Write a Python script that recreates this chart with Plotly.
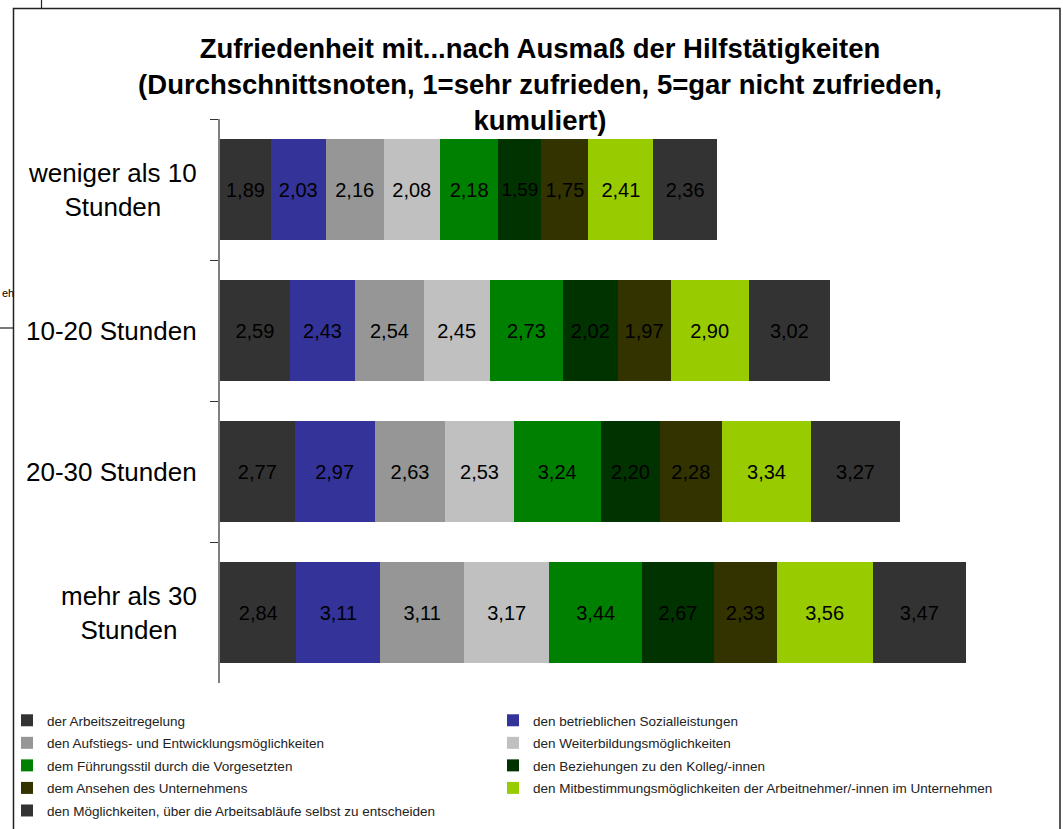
import plotly.graph_objects as go

categories = ["weniger als 10 Stunden", "10-20 Stunden", "20-30 Stunden", "mehr als 30 Stunden"]
category_labels = ["weniger als 10<br>Stunden", "10-20 Stunden", "20-30 Stunden", "mehr als 30<br>Stunden"]

series_names = [
    "der Arbeitszeitregelung",
    "den betrieblichen Sozialleistungen",
    "den Aufstiegs- und Entwicklungsmöglichkeiten",
    "den Weiterbildungsmöglichkeiten",
    "dem Führungsstil durch die Vorgesetzten",
    "den Beziehungen zu den Kolleg/-innen",
    "dem Ansehen des Unternehmens",
    "den Mitbestimmungsmöglichkeiten der Arbeitnehmer/-innen im Unternehmen",
    "den Möglichkeiten, über die Arbeitsabläufe selbst zu entscheiden",
]

arbeitszeit = [1.89, 2.59, 2.77, 2.84]
sozialleistungen = [2.03, 2.43, 2.97, 3.11]
aufstieg = [2.16, 2.54, 2.63, 3.11]
weiterbildung = [2.08, 2.45, 2.53, 3.17]
fuehrungsstil = [2.18, 2.73, 3.24, 3.44]
beziehungen = [1.59, 2.02, 2.20, 2.67]
ansehen = [1.75, 1.97, 2.28, 2.33]
mitbestimmung = [2.41, 2.90, 3.34, 3.56]
arbeitsablaeufe = [2.36, 3.02, 3.27, 3.47]

series_values = [arbeitszeit, sozialleistungen, aufstieg, weiterbildung, fuehrungsstil,
                 beziehungen, ansehen, mitbestimmung, arbeitsablaeufe]
colors = ["#333333", "#333399", "#969696", "#C0C0C0", "#008000",
          "#003300", "#333300", "#99CC00", "#333333"]

W, H = 1063, 829
L, R, T, B = 220, 35, 119, 146
PW, PH = W - L - R, H - T - B


def px_x(px):
    return (px - L) / PW


def px_y(py):
    return (H - B - py) / PH


FONT = "Liberation Sans, Arial, sans-serif"

fig = go.Figure()
for i, (name, vals, col) in enumerate(zip(series_names, series_values, colors)):
    fig.add_trace(go.Bar(
        y=categories, x=vals, name=name, orientation="h",
        marker=dict(color=col, line=dict(width=0)),
        texttemplate="%{x:.2f}", textposition="inside", insidetextanchor="middle",
        textangle=0, textfont=dict(size=20, color="#000000", family=FONT),
        legend="legend" if i % 2 == 0 else "legend2",
        legendgroup=f"g{i}",
    ))

annotations = []
for cat, lab in zip(categories, category_labels):
    annotations.append(dict(
        x=px_x(199), xref="paper", y=cat, yref="y", text=lab, showarrow=False,
        xanchor="right", yanchor="middle", align="center",
        font=dict(size=26, color="#000000", family=FONT)))
annotations.append(dict(
    x=px_x(0), xref="paper", y=px_y(293), yref="paper", text="eh", showarrow=False,
    xanchor="left", yanchor="middle", font=dict(size=11, color="#000000", family=FONT)))

shapes = [
    dict(type="rect", xref="paper", yref="paper", x0=px_x(13.5), x1=px_x(1060), y0=px_y(840), y1=px_y(8.5),
         line=dict(color="#222222", width=1.5), fillcolor="rgba(0,0,0,0)", layer="below"),
    dict(type="line", xref="paper", yref="paper", x0=px_x(41.5), x1=px_x(41.5), y0=px_y(0), y1=px_y(8.5),
         line=dict(color="#222222", width=1.2)),
    dict(type="line", xref="paper", yref="paper", x0=px_x(0), x1=px_x(13.5), y0=px_y(328), y1=px_y(328),
         line=dict(color="#222222", width=1.2)),
]

fig.update_layout(
    width=W, height=H,
    margin=dict(l=L, r=R, t=T, b=B, autoexpand=False),
    barmode="stack", bargap=0.28,
    separators=",.",
    paper_bgcolor="white", plot_bgcolor="white",
    font=dict(family=FONT, color="#000000"),
    title=dict(
        text="<b>Zufriedenheit mit...nach Ausmaß der Hilfstätigkeiten<br>"
             "(Durchschnittsnoten, 1=sehr zufrieden, 5=gar nicht zufrieden,<br>"
             "kumuliert)</b>",
        x=540 / W, xref="container", xanchor="center",
        y=1 - 58 / H, yref="container", yanchor="top",
        font=dict(size=27.5, color="#000000", family=FONT),
    ),
    xaxis=dict(range=[0, 30], visible=False, showgrid=False, zeroline=False),
    yaxis=dict(autorange="reversed", showticklabels=False, showgrid=False, zeroline=False,
               showline=True, linecolor="#808080", linewidth=1.5,
               ticks="outside", tickson="boundaries", ticklen=8, tickcolor="#333333", tickwidth=1.2),
    showlegend=True,
    legend=dict(x=px_x(7), y=px_y(705), xanchor="left", yanchor="top", orientation="v",
                tracegroupgap=2, bgcolor="rgba(0,0,0,0)",
                font=dict(size=13.5, color="#222222", family=FONT)),
    legend2=dict(x=px_x(493), y=px_y(705), xanchor="left", yanchor="top", orientation="v",
                 tracegroupgap=2, bgcolor="rgba(0,0,0,0)",
                 font=dict(size=13.5, color="#222222", family=FONT)),
    annotations=annotations,
    shapes=shapes,
)

fig.write_html("out.html", config={"displayModeBar": False},
               post_script="document.body.style.margin='0';")
